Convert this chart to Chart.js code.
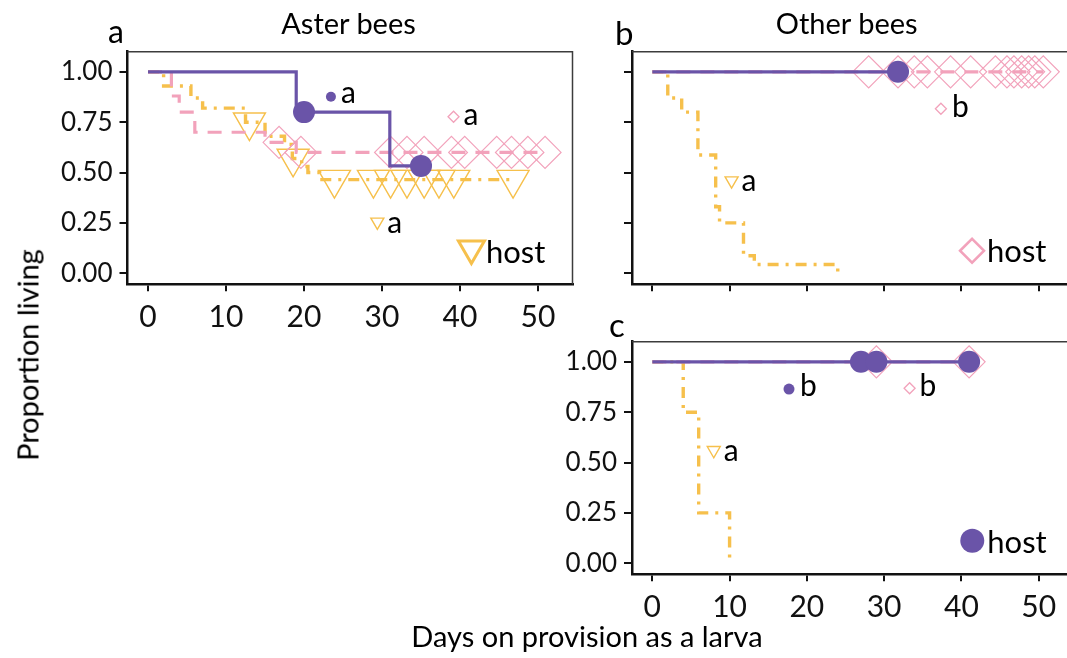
<!DOCTYPE html>
<html>
<head>
<meta charset="utf-8">
<script src="https://cdn.jsdelivr.net/npm/chart.js@4/dist/chart.umd.min.js"></script>
<style>
    html, body { margin: 0; padding: 0; overflow: hidden; background: #fff; }
    #wrap { position: relative; width: 1067px; height: 658px; overflow: hidden; font-family: Lato, sans-serif; color: #000; }
    canvas { position: absolute; left: 0; top: 0; }
    .txt { position: absolute; white-space: nowrap; line-height: 1; }
</style>
</head>
<body>
<div id="wrap">
    <canvas id="panelA" width="1090" height="658"></canvas>
    <canvas id="panelB" width="1090" height="658"></canvas>
    <canvas id="panelC" width="1090" height="658"></canvas>
</div>
<script>
// tick labels
const dayTicks = [0, 10, 20, 30, 40, 50];
const survTicks = [0, 0.25, 0.5, 0.75, 1];

// a: Aster bees
const asterPurpleDays = [0, 19, 31];
const asterPurpleSurv = [1, 0.8, 0.533];
const asterPurpleCensored = [20, 35];
const asterPinkDays = [0, 3, 4, 6, 15, 19];
const asterPinkSurv = [1, 0.88, 0.8, 0.7, 0.65, 0.6];
const asterPinkCensored = [16.8, 19.6, 31.1, 33.2, 35.4, 38.9, 40.6, 44.7, 46.6, 48.7, 50.9];
const asterYellowDays = [0, 2, 5.5, 7, 12.5, 15, 17.5, 18.5, 19.7, 20.5, 22];
const asterYellowSurv = [1, 0.93, 0.87, 0.82, 0.75, 0.68, 0.64, 0.57, 0.53, 0.5, 0.465];
const asterYellowCensored = [13, 18.6, 23.9, 28.9, 31.1, 33.2, 35.4, 37.3, 39.2, 46.8];

// b: Other bees
const otherPurpleDays = [0];
const otherPurpleSurv = [1];
const otherPurpleCensored = [31.8];
const otherPinkDays = [0];
const otherPinkSurv = [1];
const otherPinkCensored = [28, 31.8, 33.9, 35.6, 38.6, 41.2, 44.4, 45.9, 46.8, 47.8, 48.7, 49.5, 50.6];
const otherYellowDays = [0, 2, 3.8, 5.9, 8.2, 8.7, 11.8, 13.2, 24];
const otherYellowSurv = [1, 0.87, 0.8, 0.587, 0.33, 0.25, 0.087, 0.043, 0];
const otherYellowCensored = [];

// c
const lowerPurpleDays = [0];
const lowerPurpleSurv = [1];
const lowerPurpleCensored = [27, 29, 41];
const lowerPinkDays = [0];
const lowerPinkSurv = [1];
const lowerPinkCensored = [29, 41];
const lowerYellowDays = [0, 4, 6, 10];
const lowerYellowSurv = [1, 0.75, 0.25, 0];
const lowerYellowCensored = [];

const PURPLE = '#6a54a8';
const PINK = '#f2a2bb';
const YELLOW = '#f6c04c';
const X_MIN = -2.63, X_MAX = 54.42, Y_MIN = -0.055, Y_MAX = 1.1;
const FONT = 'Lato';

Chart.defaults.font.family = FONT;

function survAt(days, surv, t) {
    let v = surv[0];
    days.forEach((d, i) => { if (d <= t) v = surv[i]; });
    return v;
}

function stepLine(days, surv, censored, color, dash, width) {
    const end = Math.max(days[days.length - 1], ...censored);
    const pts = days.map((d, i) => ({x: d, y: surv[i]}));
    pts.push({x: end, y: surv[surv.length - 1]});
    return {
        data: pts, borderColor: color, borderWidth: width, borderDash: dash,
        borderCapStyle: 'butt', stepped: 'before', pointRadius: 0, tension: 0, fill: false,
    };
}

function censorMarks(days, surv, censored, style) {
    return Object.assign({
        data: censored.map(c => ({x: c, y: survAt(days, surv, c)})),
        showLine: false,
    }, style);
}

const circleStyle = {pointStyle: 'circle', pointRadius: 11, pointBorderWidth: 0, pointBackgroundColor: PURPLE, borderColor: PURPLE};
const diamondStyle = {pointStyle: 'rectRot', pointRadius: 16, pointBorderWidth: 1.2, pointBorderColor: PINK, pointBackgroundColor: 'rgba(0,0,0,0)', borderColor: PINK};
const triangleStyle = {pointStyle: 'triangle', pointRotation: 180, pointRadius: 18.5, pointBorderWidth: 1.4, pointBorderColor: YELLOW, pointBackgroundColor: 'rgba(0,0,0,0)', borderColor: YELLOW};

function panelDatasets(p) {
    return [
        censorMarks(p.purple[0], p.purple[1], p.purple[2], circleStyle),
        stepLine(p.purple[0], p.purple[1], p.purple[2], PURPLE, [], 3.2),
        censorMarks(p.pink[0], p.pink[1], p.pink[2], diamondStyle),
        stepLine(p.pink[0], p.pink[1], p.pink[2], PINK, [14, 10], 3.2),
        censorMarks(p.yellow[0], p.yellow[1], p.yellow[2], triangleStyle),
        stepLine(p.yellow[0], p.yellow[1], p.yellow[2], YELLOW, [11, 7, 3, 7], 3.4),
    ];
}

// top and right edges of the panel box
const frame = {
    id: 'frame',
    beforeDatasetsDraw(chart) {
        const {ctx, chartArea: a} = chart;
        ctx.save();
        ctx.strokeStyle = '#3c3c3c';
        ctx.lineWidth = 1.5;
        ctx.beginPath();
        ctx.moveTo(a.left, a.top);
        ctx.lineTo(a.right, a.top);
        ctx.lineTo(a.right, a.bottom);
        ctx.stroke();
        ctx.restore();
    },
};

function mark(ctx, shape, x, y, r) {
    ctx.beginPath();
    if (shape === 'circle') {
        ctx.arc(x, y, r, 0, Math.PI * 2);
    } else if (shape === 'diamond') {
        ctx.moveTo(x - r, y); ctx.lineTo(x, y - r); ctx.lineTo(x + r, y); ctx.lineTo(x, y + r);
        ctx.closePath();
    } else {
        ctx.moveTo(x, y + r); ctx.lineTo(x - 0.866 * r, y - r / 2); ctx.lineTo(x + 0.866 * r, y - r / 2);
        ctx.closePath();
    }
}

// letters of the significance groups and the "host" key
function notesPlugin(notes) {
    return {
        id: 'notes',
        afterDatasetsDraw(chart) {
            const {ctx, scales: {x, y}} = chart;
            notes.forEach(n => {
                const px = x.getPixelForValue(n.day);
                const py = y.getPixelForValue(n.value);
                ctx.save();
                mark(ctx, n.shape, px, py, n.r);
                if (n.fill) {
                    ctx.fillStyle = n.color;
                    ctx.fill();
                } else {
                    ctx.strokeStyle = n.color;
                    ctx.lineWidth = n.lw;
                    ctx.stroke();
                }
                ctx.fillStyle = '#000';
                ctx.font = n.size + 'px ' + FONT;
                ctx.textBaseline = 'alphabetic';
                ctx.fillText(n.text, px + n.dx, py + n.dy);
                ctx.restore();
            });
        },
    };
}

function panel(id, area, showX, showY, datasets, notes) {
    const W = 1090, H = 658, YW = 70, XH = 45;
    new Chart(document.getElementById(id), {
        type: 'line',
        data: {datasets},
        options: {
            responsive: false,
            animation: false,
            events: [],
            layout: {
                padding: {left: area.left - YW, top: area.top, right: W - area.right, bottom: H - area.bottom - XH},
            },
            plugins: {legend: {display: false}, tooltip: {enabled: false}},
            scales: {
                x: {
                    type: 'linear', min: X_MIN, max: X_MAX,
                    afterFit: s => { s.height = XH; },
                    afterBuildTicks: s => { s.ticks = dayTicks.map(v => ({value: v})); },
                    ticks: {display: showX, padding: 8, color: '#111', font: {size: 30}, maxRotation: 0, autoSkip: false},
                    grid: {drawOnChartArea: false, drawTicks: true, tickLength: 7, color: '#111', lineWidth: 2},
                    border: {display: true, color: '#111', width: 2.5},
                },
                y: {
                    type: 'linear', min: Y_MIN, max: Y_MAX,
                    afterFit: s => { s.width = YW; },
                    afterBuildTicks: s => { s.ticks = survTicks.map(v => ({value: v})); },
                    ticks: {display: showY, padding: 7, color: '#111', font: {size: 26}, callback: v => v.toFixed(2)},
                    grid: {drawOnChartArea: false, drawTicks: true, tickLength: 8, color: '#111', lineWidth: 2},
                    border: {display: true, color: '#111', width: 2.5},
                },
            },
        },
        plugins: [frame, notesPlugin(notes)],
    });
}

panel('panelA', {left: 127.5, right: 572.5, top: 51.7, bottom: 284.3}, true, true,
    panelDatasets({
        purple: [asterPurpleDays, asterPurpleSurv, asterPurpleCensored],
        pink: [asterPinkDays, asterPinkSurv, asterPinkCensored],
        yellow: [asterYellowDays, asterYellowSurv, asterYellowCensored],
    }), [
        {day: 23.45, value: 0.876, shape: 'circle', r: 5, color: PURPLE, fill: true, text: 'a', dx: 10, dy: 6.6, size: 30},
        {day: 39.17, value: 0.777, shape: 'diamond', r: 5.5, lw: 1.3, color: PINK, text: 'a', dx: 10, dy: 8.6, size: 30},
        {day: 29.4, value: 0.255, shape: 'triangle', r: 7.5, lw: 1.4, color: YELLOW, text: 'a', dx: 10, dy: 11.3, size: 30},
        {day: 41.46, value: 0.1225, shape: 'triangle', r: 15, lw: 3, color: YELLOW, text: 'host', dx: 14.5, dy: 14.7, size: 31},
    ]);

panel('panelB', {left: 632, right: 1077, top: 51.7, bottom: 284.3}, false, false,
    panelDatasets({
        purple: [otherPurpleDays, otherPurpleSurv, otherPurpleCensored],
        pink: [otherPinkDays, otherPinkSurv, otherPinkCensored],
        yellow: [otherYellowDays, otherYellowSurv, otherYellowCensored],
    }), [
        {day: 37.35, value: 0.8165, shape: 'diamond', r: 5.5, lw: 1.3, color: PINK, text: 'b', dx: 11, dy: 8, size: 30},
        {day: 10.26, value: 0.46, shape: 'triangle', r: 7.5, lw: 1.4, color: YELLOW, text: 'a', dx: 10, dy: 10.2, size: 30},
        {day: 41.38, value: 0.1116, shape: 'diamond', r: 12, lw: 2.5, color: PINK, text: 'host', dx: 15, dy: 10.9, size: 31},
    ]);

panel('panelC', {left: 632, right: 1077, top: 341.7, bottom: 574.3}, true, true,
    panelDatasets({
        purple: [lowerPurpleDays, lowerPurpleSurv, lowerPurpleCensored],
        pink: [lowerPinkDays, lowerPinkSurv, lowerPinkCensored],
        yellow: [lowerYellowDays, lowerYellowSurv, lowerYellowCensored],
    }), [
        {day: 17.69, value: 0.865, shape: 'circle', r: 5.5, color: PURPLE, fill: true, text: 'b', dx: 11, dy: 6.5, size: 30},
        {day: 33.3, value: 0.869, shape: 'diamond', r: 5.5, lw: 1.3, color: PINK, text: 'b', dx: 10, dy: 7.3, size: 30},
        {day: 7.95, value: 0.561, shape: 'triangle', r: 7.5, lw: 1.4, color: YELLOW, text: 'a', dx: 10, dy: 11, size: 30},
        {day: 41.41, value: 0.112, shape: 'circle', r: 12, color: PURPLE, fill: true, text: 'host', dx: 15, dy: 12.5, size: 31},
    ]);

// titles, panel letters and axis titles as page text
const wrap = document.getElementById('wrap');
function addText(text, x, baseline, size, align) {
    const el = document.createElement('div');
    el.className = 'txt';
    el.textContent = text;
    el.style.fontSize = size + 'px';
    el.style.left = x + 'px';
    el.style.top = (baseline - 0.887 * size) + 'px';
    if (align === 'center') el.style.transform = 'translateX(-50%)';
    wrap.appendChild(el);
    return el;
}
addText('a', 108, 43.3, 32);
addText('Aster bees', 348.5, 33.3, 29, 'center');
addText('b', 615, 45, 33);
addText('Other bees', 846.7, 33.3, 29, 'center');
addText('c', 609, 337, 33);
addText('Days on provision as a larva', 587, 647, 29, 'center');
const yTitle = document.createElement('div');
yTitle.className = 'txt';
yTitle.textContent = 'Proportion living';
yTitle.style.fontSize = '29px';
yTitle.style.left = '27px';
yTitle.style.top = '355px';
yTitle.style.transform = 'translate(-50%, -50%) rotate(-90deg)';
wrap.appendChild(yTitle);
</script>
</body>
</html>
